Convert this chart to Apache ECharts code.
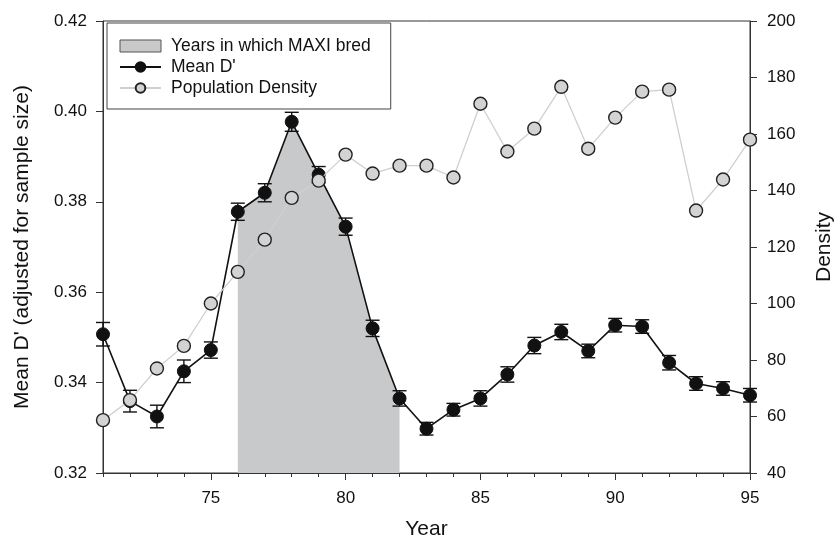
<!DOCTYPE html>
<html><head><meta charset="utf-8">
<script src="https://cdn.jsdelivr.net/npm/echarts@6/dist/echarts.min.js"></script>
<style>html,body{margin:0;padding:0;background:#fff}#c{width:837px;height:536px}</style>
</head><body><div id="c"></div>
<script>
const years = [71,72,73,74,75,76,77,78,79,80,81,82,83,84,85,86,87,88,89,90,91,92,93,94,95];
const meanD = [0.3507,0.3359,0.3325,0.3425,0.3472,0.3778,0.3820,0.3977,0.3860,0.3745,0.3520,0.3365,0.3298,0.3340,0.3365,0.3418,0.3482,0.3512,0.3470,0.3527,0.3524,0.3444,0.3398,0.3387,0.3372];
const meanErr = [0.0026,0.0024,0.0025,0.0025,0.0018,0.0019,0.0020,0.0021,0.0018,0.0019,0.0018,0.0017,0.0014,0.0014,0.0017,0.0017,0.0018,0.0017,0.0015,0.0015,0.0015,0.0016,0.0015,0.0015,0.0015];
const density = [58.7,65.8,77,85,100,111.2,122.6,137.4,143.5,152.7,146,148.8,148.8,144.6,170.7,153.8,161.9,176.7,154.8,165.8,175,175.7,132.9,143.9,158];
const bredStart = 76, bredEnd = 82;
const majorYears = [75,80,85,90,95];
const minorYears = years.filter(y => majorYears.indexOf(y) < 0);

const FONT = 'Liberation Sans';
const chart = echarts.init(document.getElementById('c'));
const meanPts = years.map((y,i) => [y, meanD[i]]);
const densPts = years.map((y,i) => [y, density[i]]);
const bredPts = years.map((y,i) => [y, meanD[i]]).filter(p => p[0] >= bredStart && p[0] <= bredEnd);
const errData = years.map((y,i) => [y, meanD[i]-meanErr[i], meanD[i]+meanErr[i]]);

chart.setOption({
  animation:false,
  textStyle:{fontFamily:FONT},
  grid:{left:103,right:87,top:21,bottom:63,show:true,borderColor:'#333',borderWidth:1,backgroundColor:'transparent',containLabel:false,outerBoundsMode:'none'},
  legend:{
    left:107, top:23, orient:'vertical',
    padding:[14,20,12,12], itemGap:3, itemWidth:41, itemHeight:12,
    borderColor:'#444', borderWidth:1, backgroundColor:'#fff',
    textStyle:{fontFamily:FONT,fontSize:17.5,color:'#111',padding:[0,0,0,5]},
    data:[
      {name:'Years in which MAXI bred', icon:'rect', itemStyle:{color:'#c8c9cb',borderColor:'#555',borderWidth:1}},
      {name:"Mean D'"},
      {name:'Population Density'}
    ]
  },
  xAxis:[{
    type:'value', min:71, max:95, position:'bottom',
    name:'Year', nameLocation:'middle', nameGap:46,
    nameTextStyle:{fontFamily:FONT,fontSize:21,color:'#111'},
    axisLine:{show:true,lineStyle:{color:'#333',width:1}},
    axisTick:{show:true,inside:false,length:7,customValues:majorYears,lineStyle:{color:'#333'}},
    axisLabel:{show:true,customValues:majorYears,fontFamily:FONT,fontSize:17,color:'#111',margin:17},
    splitLine:{show:false}
  },{
    type:'value', min:71, max:95, position:'bottom', gridIndex:0,
    axisLine:{show:false},
    axisTick:{show:true,inside:false,length:4,customValues:minorYears,lineStyle:{color:'#333'}},
    axisLabel:{show:false},
    splitLine:{show:false}
  }],
  yAxis:[{
    type:'value', min:0.32, max:0.42, interval:0.02, position:'left',
    name:"Mean D' (adjusted for sample size)", nameLocation:'middle', nameGap:70,
    nameTextStyle:{fontFamily:FONT,fontSize:21,color:'#111'},
    axisLine:{show:true,lineStyle:{color:'#333'}},
    axisTick:{show:true,inside:false,length:7,lineStyle:{color:'#333'}},
    axisLabel:{fontFamily:FONT,fontSize:17,color:'#111',margin:16,formatter:v=>v.toFixed(2)},
    splitLine:{show:false}
  },{
    type:'value', min:40, max:200, interval:20, position:'right',
    name:'Density', nameLocation:'middle', nameGap:64, nameRotate:90,
    nameTextStyle:{fontFamily:FONT,fontSize:21,color:'#111'},
    axisLine:{show:true,lineStyle:{color:'#333'}},
    axisTick:{show:true,inside:false,length:7,lineStyle:{color:'#333'}},
    axisLabel:{fontFamily:FONT,fontSize:17,color:'#111',margin:17},
    splitLine:{show:false}
  }],
  series:[
    {
      name:'Years in which MAXI bred', type:'line', data:bredPts, xAxisIndex:0, yAxisIndex:0,
      showSymbol:false, symbol:'none', lineStyle:{width:0}, itemStyle:{color:'#c8c9cb'},
      areaStyle:{color:'#c8c9cb',opacity:1,origin:'start'}, z:1, silent:true
    },
    {
      name:'errbar', type:'custom', xAxisIndex:0, yAxisIndex:0, data:errData, z:3,
      renderItem:function(params, api){
        const x = api.value(0);
        const lo = api.coord([x, api.value(1)]);
        const hi = api.coord([x, api.value(2)]);
        const w = 7;
        const st = {stroke:'#111', lineWidth:1.4};
        return {type:'group', children:[
          {type:'line', shape:{x1:lo[0],y1:lo[1],x2:hi[0],y2:hi[1]}, style:st},
          {type:'line', shape:{x1:lo[0]-w,y1:lo[1],x2:lo[0]+w,y2:lo[1]}, style:st},
          {type:'line', shape:{x1:hi[0]-w,y1:hi[1],x2:hi[0]+w,y2:hi[1]}, style:st}
        ]};
      }
    },
    {
      name:"Mean D'", type:'line', data:meanPts, xAxisIndex:0, yAxisIndex:0, z:4,
      symbol:'circle', symbolSize:13, lineStyle:{color:'#111',width:1.6},
      itemStyle:{color:'#111',borderColor:'#111',borderWidth:1}
    },
    {
      name:'Population Density', type:'line', data:densPts, xAxisIndex:0, yAxisIndex:1, z:5,
      symbol:'circle', symbolSize:13, lineStyle:{color:'#cfcfcf',width:1.3},
      itemStyle:{color:'#d2d3d5',borderColor:'#222',borderWidth:1.4}
    }
  ]
});
</script>
</body></html>
